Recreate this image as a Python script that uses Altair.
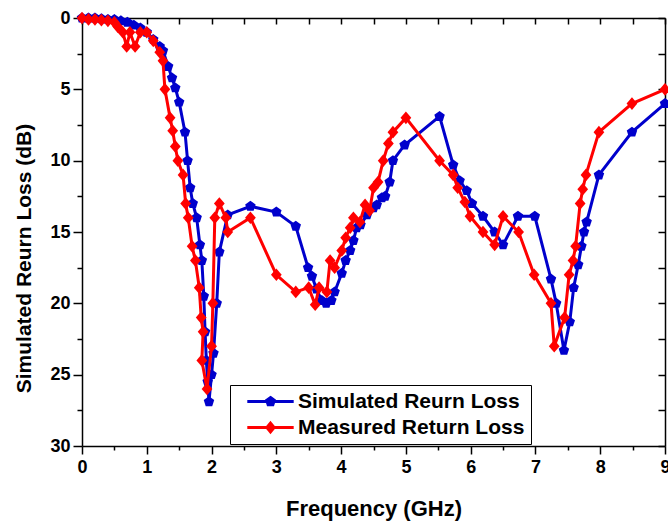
import altair as alt
import pandas as pd

sim_name = "Simulated Reurn Loss"
meas_name = "Measured Return Loss"

sim_freq = [0.0, 0.1, 0.2, 0.3, 0.4, 0.5, 0.6, 0.7, 0.8, 0.9, 1.0, 1.1, 1.2, 1.25, 1.33,
            1.39, 1.44, 1.5, 1.59, 1.63, 1.67, 1.71, 1.77, 1.82, 1.85, 1.88, 1.9, 1.92,
            1.94, 1.96, 2.0, 2.03, 2.08, 2.12, 2.25, 2.6, 3.0, 3.3, 3.49, 3.55, 3.62,
            3.7, 3.77, 3.85, 3.9, 4.01, 4.07, 4.14, 4.19, 4.24, 4.3, 4.4, 4.5, 4.55,
            4.63, 4.68, 4.75, 4.8, 4.98, 5.52, 5.73, 5.83, 5.94, 6.02, 6.19, 6.37, 6.5,
            6.73, 6.99, 7.24, 7.32, 7.44, 7.53, 7.59, 7.66, 7.71, 7.75, 7.79, 7.98,
            8.49, 9.0]
sim_loss = [0.0, 0.0, 0.0, 0.05, 0.1, 0.1, 0.2, 0.3, 0.5, 0.7, 1.0, 1.5, 2.0, 2.3, 3.4,
            4.2, 4.9, 5.9, 8.0, 10.0, 11.9, 13.0, 14.0, 15.9, 17.0, 19.5, 22.0, 24.0,
            25.5, 26.9, 25.0, 23.5, 20.0, 16.4, 13.8, 13.2, 13.6, 14.6, 17.5, 18.1, 19.0,
            19.8, 20.0, 19.8, 19.2, 17.9, 17.0, 16.3, 15.6, 14.7, 14.5, 13.8, 13.3, 13.1,
            12.6, 12.5, 11.5, 10.0, 8.9, 6.9, 10.3, 11.4, 12.1, 13.0, 13.9, 15.0, 15.9,
            13.9, 13.9, 18.3, 20.0, 23.3, 21.3, 18.9, 17.3, 16.0, 15.0, 14.3, 11.0,
            8.0, 6.0]

meas_freq = [0.0, 0.1, 0.2, 0.3, 0.4, 0.5, 0.55, 0.63, 0.69, 0.74, 0.82, 0.9, 1.0, 1.1,
             1.2, 1.25, 1.28, 1.36, 1.40, 1.44, 1.48, 1.56, 1.60, 1.64, 1.70, 1.75, 1.81,
             1.84, 1.87, 1.85, 1.93, 2.0, 2.02, 2.05, 2.12, 2.22, 2.25, 2.6, 3.0, 3.3,
             3.5, 3.6, 3.66, 3.78, 3.83, 3.9, 4.01, 4.07, 4.14, 4.19, 4.29, 4.37, 4.44,
             4.5, 4.57, 4.65, 4.73, 4.8, 5.0, 5.52, 5.73, 5.8, 5.91, 5.99, 6.19, 6.37,
             6.5, 6.74, 6.98, 7.24, 7.29, 7.45, 7.52, 7.58, 7.62, 7.69, 7.73, 7.78, 7.98,
             8.49, 9.0]
meas_loss = [0.0, 0.1, 0.1, 0.15, 0.2, 0.3, 0.6, 1.0, 2.0, 1.0, 2.0, 1.0, 1.0, 1.6,
             2.4, 3.0, 5.0, 7.0, 7.9, 9.0, 10.0, 11.0, 13.0, 14.0, 16.0, 17.0, 18.9,
             21.0, 22.0, 24.0, 26.0, 23.0, 20.0, 14.0, 13.0, 14.0, 15.0, 14.0, 18.0, 19.2,
             18.9, 20.1, 18.9, 19.2, 17.0, 17.5, 16.3, 15.4, 14.7, 14.0, 14.3, 13.1, 13.5,
             11.9, 11.5, 10.0, 8.8, 8.0, 7.0, 10.0, 11.0, 11.9, 12.9, 13.9, 15.0, 15.9,
             13.9, 15.0, 18.0, 20.0, 23.0, 21.0, 18.0, 17.0, 16.0, 13.0, 12.0, 11.0, 8.0,
             6.0, 5.0]

x_ticks = [0, 0.5, 1, 1.5, 2, 2.5, 3, 3.5, 4, 4.5, 5, 5.5, 6, 6.5, 7, 7.5, 8, 8.5, 9]
y_ticks = [0, 2.5, 5, 7.5, 10, 12.5, 15, 17.5, 20, 22.5, 25, 27.5, 30]

rows = []
for i, (f, l) in enumerate(zip(sim_freq, sim_loss)):
    rows.append({"series": sim_name, "freq": f, "loss": l, "idx": i})
for i, (f, l) in enumerate(zip(meas_freq, meas_loss)):
    rows.append({"series": meas_name, "freq": f, "loss": l, "idx": i})
df = pd.DataFrame(rows)

FONT = "Liberation Sans"
BLUE = "#0000cc"
RED = "#ff0000"
PENT = "M0,-1L0.951,-0.309L0.588,0.809L-0.588,0.809L-0.951,-0.309Z"
DIAM = "M0,-1L0.85,0L0,1L-0.85,0Z"
LEG_PENT = "M-2.9,0L2.9,0M0,-0.5L0.476,-0.155L0.294,0.405L-0.294,0.405L-0.476,-0.155Z"
LEG_DIAM = "M-2.9,0L2.9,0M0,-0.55L0.45,0L0,0.55L-0.45,0Z"

xscale = alt.Scale(domain=[0, 9], nice=False, zero=False)
yscale = alt.Scale(domain=[0, 30], reverse=True, nice=False, zero=False)
cscale = alt.Scale(domain=[sim_name, meas_name], range=[BLUE, RED])

is_major_x = "datum.value % 1 === 0"
is_major_y = "datum.value % 5 === 0"

bottom_axis = alt.Axis(
    values=x_ticks, labelExpr=f"{is_major_x} ? '' + datum.value : ''",
    tickSize={"condition": {"test": is_major_x, "value": 8}, "value": 4},
    tickWidth=1.5, tickColor="black", domainColor="black", domainWidth=1.5,
    grid=False, labelFont=FONT, labelFontSize=18, labelFontWeight="bold",
    labelColor="black", labelPadding=4, labelFlush=False, labelOverlap=False,
    title="Frequency (GHz)", titleFont=FONT, titleFontSize=22, titleFontWeight="bold",
    titleColor="black", titleBaseline="alphabetic", titleY=69,
)
left_axis = alt.Axis(
    values=y_ticks, labelExpr=f"{is_major_y} ? '' + datum.value : ''",
    tickSize={"condition": {"test": is_major_y, "value": 9}, "value": 5},
    tickWidth=1.5, tickColor="black", domainColor="black", domainWidth=1.5,
    grid=False, labelFont=FONT, labelFontSize=18, labelFontWeight="bold",
    labelColor="black", labelPadding=3, labelFlush=False, labelOverlap=False,
    title="Simulated Reurn Loss (dB)", titleFont=FONT, titleFontSize=21,
    titleFontWeight="bold", titleColor="black", titleBaseline="alphabetic",
    titleX=-52, titleY=240,
)
top_axis = alt.Axis(
    orient="top", values=x_ticks, labels=False, title=None, grid=False,
    tickSize={"expr": "-6"}, tickWidth=1.5, tickColor="black",
    domainColor="black", domainWidth=1.5,
)
right_axis = alt.Axis(
    orient="right", values=y_ticks, labels=False, title=None, grid=False,
    tickSize={"expr": "-7"}, tickWidth=1.5, tickColor="black",
    domainColor="black", domainWidth=1.5,
)

pick = f"datum.value === '{sim_name}'"
legend = alt.Legend(
    title=None, orient="none", legendX=148, legendY=367,
    strokeColor="black", fillColor="white", padding=6,
    labelFont=FONT, labelFontSize=21, labelFontWeight="bold", labelColor="black",
    labelLimit=400, symbolSize=256, symbolOffset=24, labelOffset=17,
    rowPadding=4, symbolStrokeWidth=3, symbolOpacity=1,
    symbolType=alt.ExprRef(expr=f"{pick} ? '{LEG_PENT}' : '{LEG_DIAM}'"),
    symbolStrokeColor=alt.ExprRef(expr=f"{pick} ? '{BLUE}' : '{RED}'"),
    symbolFillColor=alt.ExprRef(expr=f"{pick} ? '{BLUE}' : '{RED}'"),
)

base = alt.Chart(df)


def series_layers(name, shape, size, with_legend):
    sub = base.transform_filter(alt.datum.series == name)
    line = sub.mark_line(strokeWidth=3).encode(
        x=alt.X("freq:Q", scale=xscale, axis=bottom_axis if with_legend else None),
        y=alt.Y("loss:Q", scale=yscale, axis=left_axis if with_legend else None),
        color=alt.Color("series:N", scale=cscale, legend=legend if with_legend else None),
        order=alt.Order("idx:Q"),
    )
    pts = sub.mark_point(filled=True, opacity=1, shape=shape, size=size).encode(
        x=alt.X("freq:Q", scale=xscale, axis=None),
        y=alt.Y("loss:Q", scale=yscale, axis=None),
        color=alt.Color("series:N", scale=cscale, legend=None),
    )
    return [line, pts]


frame = base.mark_point(opacity=0).encode(
    x=alt.X("freq:Q", scale=xscale, axis=top_axis),
    y=alt.Y("loss:Q", scale=yscale, axis=right_axis),
)

layers = series_layers(sim_name, PENT, 121, True) + series_layers(meas_name, DIAM, 160, False) + [frame]

chart = alt.layer(*layers).resolve_axis(
    x="independent", y="independent"
).resolve_legend(
    color="independent"
).properties(
    width=583, height=428,
    autosize=alt.AutoSizeParams(type="none"),
    padding={"left": 82, "top": 18, "right": 3, "bottom": 76},
    background="white",
).configure_view(stroke=None)

chart.save("out.html", embed_options={"renderer": "svg", "actions": False})
